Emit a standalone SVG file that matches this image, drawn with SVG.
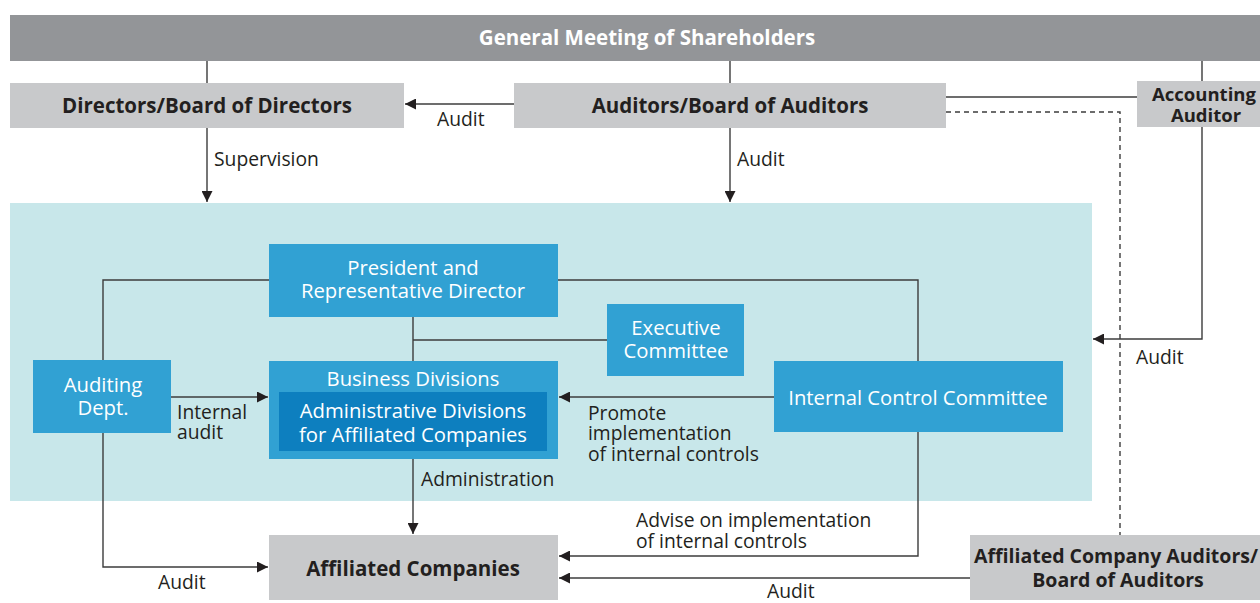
<svg xmlns="http://www.w3.org/2000/svg" width="1260" height="603" viewBox="0 0 1260 603">
<defs>
<style>
.t{font-family:"Open Sans","Noto Sans",sans-serif;fill:#231f20}
.b{font-weight:bold;font-size:20.5px}
.w{fill:#fff;font-size:20.3px}
.l{font-size:19.3px}
.g{fill:#c8c9cb}
.bl{fill:#31a1d3}
.ln{fill:none;stroke:#3c3c3c;stroke-width:1.4}
</style>
<marker id="ah" viewBox="0 0 10 10" refX="10" refY="5" markerWidth="11" markerHeight="11" markerUnits="userSpaceOnUse" orient="auto">
<path d="M0,0 L10,5 L0,10 z" fill="#231f20"/>
</marker>
</defs>
<rect width="1260" height="603" fill="#fff"/>
<rect x="10" y="203" width="1082" height="298" fill="#c8e7ea"/>

<g id="connectors">
<path class="ln" d="M207,61 V83 M730,61 V83 M1202,61 V81"/>
<path class="ln" d="M514,104 H405" marker-end="url(#ah)"/>
<path class="ln" d="M946,97 H1137"/>
<path class="ln" d="M946,112 H1120 V535" stroke-dasharray="5,4"/>
<path class="ln" d="M207,128 V202" marker-end="url(#ah)"/>
<path class="ln" d="M730,128 V202" marker-end="url(#ah)"/>
<path class="ln" d="M1202,127 V339 H1093" marker-end="url(#ah)"/>
<path class="ln" d="M269,280 H103 V360 M558,280 H918 V361"/>
<path class="ln" d="M413,317 V361 M413,340 H607"/>
<path class="ln" d="M171,397 H268" marker-end="url(#ah)"/>
<path class="ln" d="M774,397 H559" marker-end="url(#ah)"/>
<path class="ln" d="M413,459 V534" marker-end="url(#ah)"/>
<path class="ln" d="M103,433 V567 H268" marker-end="url(#ah)"/>
<path class="ln" d="M918,432 V556 H559" marker-end="url(#ah)"/>
<path class="ln" d="M970,578 H559" marker-end="url(#ah)"/>
</g>

<g id="labels" class="t l">
<text x="437" y="126">Audit</text>
<text x="214" y="166">Supervision</text>
<text x="737" y="166">Audit</text>
<text x="1136" y="364">Audit</text>
<text x="177" y="419">Internal</text>
<text x="177" y="439">audit</text>
<text x="588" y="420">Promote</text>
<text x="588" y="440">implementation</text>
<text x="588" y="461">of internal controls</text>
<text x="421" y="486">Administration</text>
<text x="636" y="527">Advise on implementation</text>
<text x="636" y="548">of internal controls</text>
<text x="158" y="589">Audit</text>
<text x="767" y="598">Audit</text>
</g>

<g id="shareholders">
<rect x="10" y="15" width="1250" height="46" fill="#939598"/>
<text class="t b" x="647" y="45" text-anchor="middle" style="fill:#fff">General Meeting of Shareholders</text>
</g>
<g id="directors">
<rect class="g" x="10" y="83" width="394" height="45"/>
<text class="t b" x="207" y="113" text-anchor="middle">Directors/Board of Directors</text>
</g>
<g id="auditors">
<rect class="g" x="514" y="83" width="432" height="45"/>
<text class="t b" x="730" y="113" text-anchor="middle">Auditors/Board of Auditors</text>
</g>
<g id="accounting-auditor">
<rect class="g" x="1137" y="81" width="123" height="46"/>
<text class="t b" x="1204" y="101" text-anchor="middle" style="font-size:18.5px">Accounting</text>
<text class="t b" x="1206" y="122" text-anchor="middle" style="font-size:18.5px">Auditor</text>
</g>
<g id="president">
<rect class="bl" x="269" y="244" width="289" height="73"/>
<text class="t w" x="413" y="275" text-anchor="middle">President and</text>
<text class="t w" x="413" y="298" text-anchor="middle">Representative Director</text>
</g>
<g id="executive">
<rect class="bl" x="607" y="304" width="137" height="72"/>
<text class="t w" x="676" y="335" text-anchor="middle">Executive</text>
<text class="t w" x="676" y="358" text-anchor="middle">Committee</text>
</g>
<g id="auditing-dept">
<rect class="bl" x="33" y="360" width="138" height="73"/>
<text class="t w" x="103" y="392" text-anchor="middle">Auditing</text>
<text class="t w" x="103" y="415" text-anchor="middle">Dept.</text>
</g>
<g id="business">
<rect class="bl" x="269" y="361" width="289" height="98"/>
<text class="t w" x="413" y="386" text-anchor="middle">Business Divisions</text>
<rect x="279" y="392" width="268" height="59" fill="#0d7fbf"/>
<text class="t w" x="413" y="418" text-anchor="middle">Administrative Divisions</text>
<text class="t w" x="413" y="442" text-anchor="middle">for Affiliated Companies</text>
</g>
<g id="icc">
<rect class="bl" x="774" y="361" width="289" height="71"/>
<text class="t w" x="918" y="405" text-anchor="middle">Internal Control Committee</text>
</g>
<g id="affiliated">
<rect class="g" x="269" y="535" width="289" height="65"/>
<text class="t b" x="413" y="576" text-anchor="middle">Affiliated Companies</text>
</g>
<g id="affiliated-auditors">
<rect class="g" x="970" y="535" width="290" height="65"/>
<text class="t b" x="1116" y="563" text-anchor="middle" style="font-size:19.5px">Affiliated Company Auditors/</text>
<text class="t b" x="1118" y="587" text-anchor="middle" style="font-size:19.5px">Board of Auditors</text>
</g>
</svg>
